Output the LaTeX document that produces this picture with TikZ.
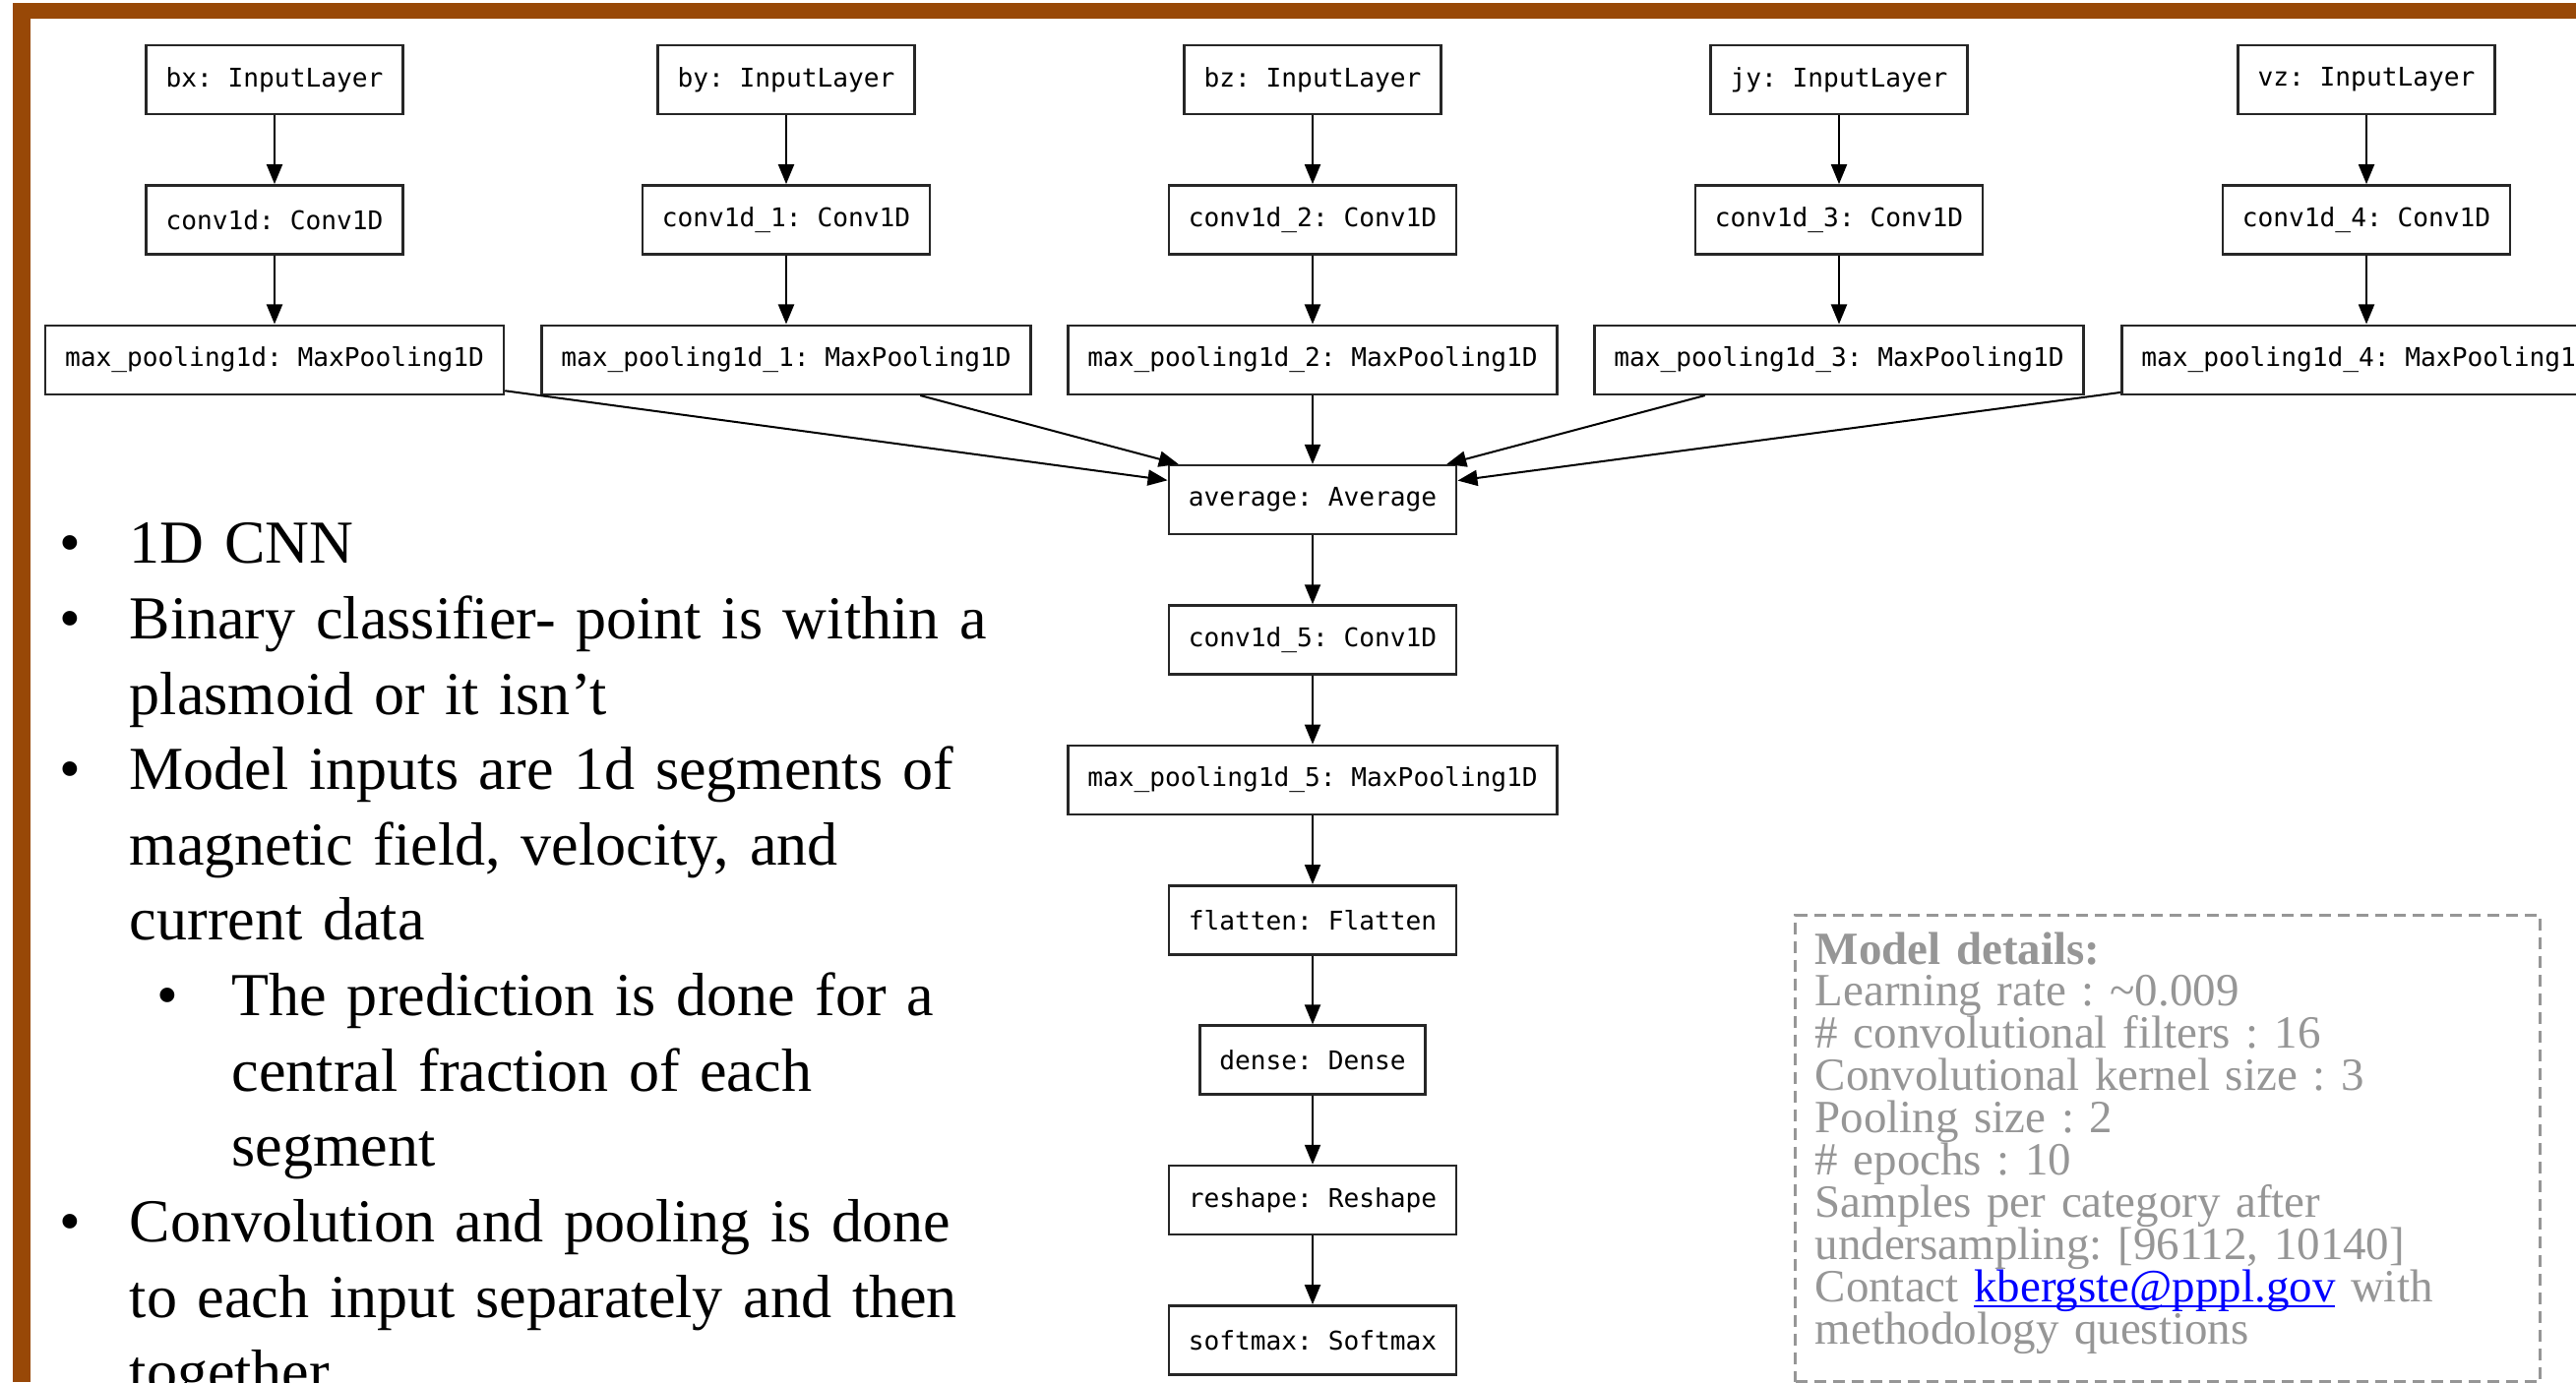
\documentclass[tikz,border=0pt]{standalone}
\usepackage{fontspec}
\setmainfont{Liberation Serif}
\newfontfamily\layerfont{DejaVu Sans Mono}
\usetikzlibrary{arrows.meta}
\usetikzlibrary{positioning}
\frenchspacing

\definecolor{framebrown}{RGB}{152,72,7}
\definecolor{detailgray}{RGB}{150,150,150}
\definecolor{linkblue}{RGB}{0,0,255}

\newcommand{\leftlabel}[1]{#1\hfil}
\newcommand{\tightlines}{\setlength{\lineskiplimit}{-20pt}\setlength{\lineskip}{0pt}}
\newcommand{\maillink}[1]{\textcolor{linkblue}{\smash{\underline{\smash{#1}}}}}
\newenvironment{notelist}{\begin{list}{\textbullet}{%
    \setlength{\leftmargin}{0.71cm}\setlength{\labelwidth}{0.71cm}%
    \setlength{\labelsep}{0pt}\setlength{\topsep}{0pt}%
    \setlength{\partopsep}{0pt}\setlength{\itemsep}{0pt}%
    \setlength{\parsep}{0pt}\let\makelabel\leftlabel}}{\end{list}}
\newenvironment{subnotelist}{\begin{list}{\textbullet}{%
    \setlength{\leftmargin}{1.04cm}\setlength{\labelwidth}{0.76cm}%
    \setlength{\labelsep}{0pt}\setlength{\topsep}{0pt}%
    \setlength{\partopsep}{0pt}\setlength{\itemsep}{0pt}%
    \setlength{\parsep}{0pt}\let\makelabel\leftlabel}}{\end{list}}

\tikzstyle{layer_node} = [
    rectangle,
    draw=black!85,
    line width=0.025cm,
    font=\layerfont\fontsize{7.45}{9}\selectfont,
    inner xsep=0.2cm, % box is text plus 20px each side
    inner ysep=0pt,
    minimum height=0.70cm
]
\tikzstyle{flow} = [
    draw=black,
    line width=0.02cm,
    -{Triangle[length=0.2cm, width=0.16cm]}
]
\tikzstyle{notes_text} = [
    anchor=base west,
    inner sep=0pt,
    text width=10cm,
    font=\fontsize{17.65}{21.8}\selectfont
]
\tikzstyle{details_box} = [
    draw=detailgray,
    line width=0.03cm,
    dash pattern=on 0.12cm off 0.07cm,
    inner sep=0pt,
    minimum width=7.57cm,
    minimum height=4.74cm,
    anchor=north west
]
\tikzstyle{details_text} = [
    anchor=base west,
    inner sep=0pt,
    text width=7.3cm,
    text=detailgray,
    font=\fontsize{13.35}{12.2}\selectfont
]

\begin{document}
\begin{tikzpicture}[x=0.01cm, y=-0.01cm, node distance=0.698cm]
\useasboundingbox (0,0) rectangle (2618,1405);

% slide frame
\fill [framebrown] (13,3) rectangle (2618,19);
\fill [framebrown] (13,3) rectangle (31,1405);

% five input branches
\node [layer_node] (bx) at (279,81) {bx: InputLayer};
\node [layer_node, below=of bx] (conv0) {conv1d: Conv1D};
\node [layer_node, below=of conv0] (pool0) {max\_pooling1d: MaxPooling1D};

\node [layer_node] (by) at (799,81) {by: InputLayer};
\node [layer_node, below=of by] (conv1) {conv1d\_1: Conv1D};
\node [layer_node, below=of conv1] (pool1) {max\_pooling1d\_1: MaxPooling1D};

\node [layer_node] (bz) at (1334,81) {bz: InputLayer};
\node [layer_node, below=of bz] (conv2) {conv1d\_2: Conv1D};
\node [layer_node, below=of conv2] (pool2) {max\_pooling1d\_2: MaxPooling1D};

\node [layer_node] (jy) at (1869,81) {jy: InputLayer};
\node [layer_node, below=of jy] (conv3) {conv1d\_3: Conv1D};
\node [layer_node, below=of conv3] (pool3) {max\_pooling1d\_3: MaxPooling1D};

\node [layer_node] (vz) at (2405,81) {vz: InputLayer};
\node [layer_node, below=of vz] (conv4) {conv1d\_4: Conv1D};
\node [layer_node, below=of conv4] (pool4) {max\_pooling1d\_4: MaxPooling1D};

% merged trunk
\node [layer_node, below=of pool2] (average) {average: Average};
\node [layer_node, below=of average] (conv5) {conv1d\_5: Conv1D};
\node [layer_node, below=of conv5] (pool5) {max\_pooling1d\_5: MaxPooling1D};
\node [layer_node, below=of pool5] (flatten) {flatten: Flatten};
\node [layer_node, below=of flatten] (dense) {dense: Dense};
\node [layer_node, below=of dense] (reshape) {reshape: Reshape};
\node [layer_node, below=of reshape] (softmax) {softmax: Softmax};

\draw [flow] (bx) -- (conv0);
\draw [flow] (conv0) -- (pool0);
\draw [flow] (by) -- (conv1);
\draw [flow] (conv1) -- (pool1);
\draw [flow] (bz) -- (conv2);
\draw [flow] (conv2) -- (pool2);
\draw [flow] (jy) -- (conv3);
\draw [flow] (conv3) -- (pool3);
\draw [flow] (vz) -- (conv4);
\draw [flow] (conv4) -- (pool4);

\draw [flow] (pool0) -- (average);
\draw [flow] (pool1) -- (average);
\draw [flow] (pool2) -- (average);
\draw [flow] (pool3) -- (average);
\draw [flow] (pool4) -- (average);

\draw [flow] (average) -- (conv5);
\draw [flow] (conv5) -- (pool5);
\draw [flow] (pool5) -- (flatten);
\draw [flow] (flatten) -- (dense);
\draw [flow] (dense) -- (reshape);
\draw [flow] (reshape) -- (softmax);

% bullet points
\node [notes_text] (notes) at (60,496) {%
\begin{notelist}
\item 1D CNN
\item Binary classifier- point is within a\newline plasmoid or it isn't
\item Model inputs are 1d segments of\newline magnetic field, velocity, and\newline current data
  \begin{subnotelist}
  \item The prediction is done for a\newline central fraction of each\newline segment
  \end{subnotelist}
\item Convolution and pooling is done\newline to each input separately and then\newline together
\end{notelist}};

% model details
\node [details_box] (details) at (1823,929) {};
\node [details_text] (details_lines) at (1844,980) {\tightlines
\textbf{Model details:}\\
Learning rate : \textasciitilde0.009\\
\# convolutional filters : 16\\
Convolutional kernel size : 3\\
Pooling size : 2\\
\# epochs : 10\\
Samples per category after\\
undersampling: [96112, 10140]\\
Contact \maillink{kbergste@pppl.gov} with\\
methodology questions};

\end{tikzpicture}
\end{document}
